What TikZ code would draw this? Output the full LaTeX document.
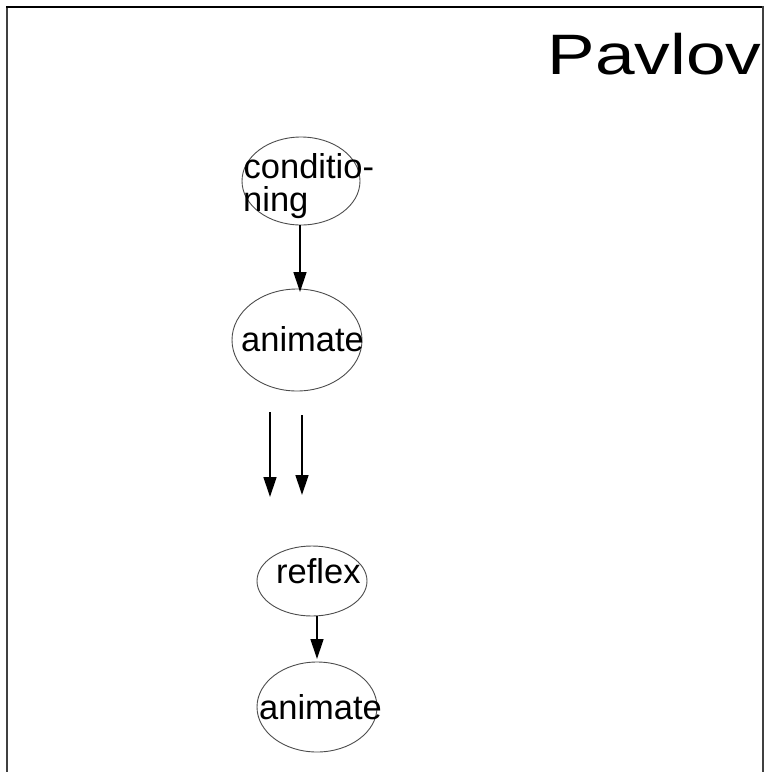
\documentclass[tikz,border=0pt]{standalone}
\usepackage{fontspec}
\setmainfont{Liberation Sans}
\usetikzlibrary{arrows.meta,shapes.geometric}
\begin{document}
\begin{tikzpicture}[x=1pt,y=-1pt,
  ell/.style={draw=black!70,line width=0.9pt,ellipse,inner sep=0pt},
  lbl/.style={inner sep=0pt,anchor=base west,font=\fontsize{34.5}{33}\selectfont},
  arr/.style={draw=black,line width=1.3pt,-{Triangle[length=20pt,width=13pt]}}]
\useasboundingbox (0,0) rectangle (766,772);
% frame
\draw[black!75,line width=2pt] (7,772) -- (7,7);
\draw[black,line width=1.6pt] (6,7) -- (763,7);
\draw[black!75,line width=2pt] (763,6) -- (763,772);
% title
\node[inner sep=0pt,anchor=base west,font=\fontsize{57}{60}\selectfont] (title) at (547.5,74) {\scalebox{1.25}[1]{Pavlov}};
% ellipses
\node[ell,minimum width=118,minimum height=88] (n1) at (301,181) {};
\node[ell,minimum width=130,minimum height=102] (n2) at (297,340) {};
\node[ell,minimum width=110,minimum height=70] (n3) at (312,581) {};
\node[ell,minimum width=120,minimum height=90] (n4) at (317,707) {};
% texts
\node[lbl] (t1a) at (243.5,178) {conditio-};
\node[lbl] (t1b) at (243,211) {ning};
\node[lbl] (t2) at (241,351) {animate};
\node[lbl] (t3) at (276,583) {reflex};
\node[lbl] (t4) at (259,719) {animate};
% free arrows
\coordinate (a1s) at (270,412);
\coordinate (a1e) at (270,497);
\coordinate (a2s) at (302,415);
\coordinate (a2e) at (302,495);
% connectors
\draw[arr] (n1.south -| 300,0) -- (300,292);
\draw[arr] (a1s) -- (a1e);
\draw[arr] (a2s) -- (a2e);
\draw[arr] (317,616) -- (317,659);
\end{tikzpicture}
\end{document}
